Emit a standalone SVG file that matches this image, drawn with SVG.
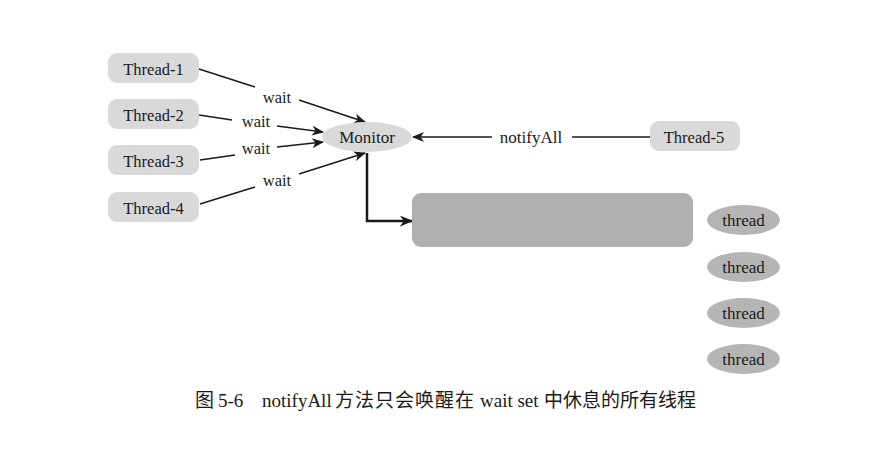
<svg xmlns="http://www.w3.org/2000/svg" width="873" height="460" viewBox="0 0 873 460">
<defs>
<style>
.box{fill:#d9d9d9;}
.t{font-family:"Liberation Serif","Noto Sans CJK SC",serif;font-size:16.5px;fill:#1a1a1a;text-anchor:middle;}
.t17{font-size:17px;}
.cap{font-family:"Liberation Serif","Noto Sans CJK SC",serif;font-size:19px;fill:#1a1a1a;}
.ln{stroke:#1a1a1a;stroke-width:1.5;fill:none;}
.thick{stroke:#1a1a1a;stroke-width:2.5;fill:none;}
.th{fill:#b5b5b5;}
</style>
<marker id="arr" viewBox="0 0 12 10" refX="11" refY="5" markerWidth="13" markerHeight="10" markerUnits="userSpaceOnUse" orient="auto">
<path d="M0,0 L12,5 L0,10 L3.5,5 z" fill="#1a1a1a"/>
</marker>
<marker id="arr2" viewBox="0 0 12 10" refX="11" refY="5" markerWidth="14" markerHeight="11" markerUnits="userSpaceOnUse" orient="auto">
<path d="M0,0 L12,5 L0,10 L3.5,5 z" fill="#1a1a1a"/>
</marker>
</defs>
<rect width="873" height="460" fill="#ffffff"/>

<g id="connectors">
<line class="ln" x1="199" y1="69" x2="255" y2="87"/>
<line class="ln" x1="299" y1="100" x2="365" y2="122" marker-end="url(#arr)"/>
<line class="ln" x1="199" y1="115" x2="232" y2="120"/>
<line class="ln" x1="277" y1="126" x2="323" y2="132" marker-end="url(#arr)"/>
<line class="ln" x1="200" y1="160" x2="235" y2="155"/>
<line class="ln" x1="277" y1="147" x2="323" y2="142" marker-end="url(#arr)"/>
<line class="ln" x1="200" y1="204" x2="255" y2="187"/>
<line class="ln" x1="299" y1="174" x2="365" y2="153" marker-end="url(#arr)"/>
<line class="ln" x1="650" y1="137" x2="572" y2="137"/>
<line class="ln" x1="492" y1="137" x2="413" y2="137" marker-end="url(#arr)"/>
<polyline class="thick" points="367,153 367,221 412,221" marker-end="url(#arr2)"/>
<text class="t" x="277" y="103">wait</text>
<text class="t" x="256" y="127">wait</text>
<text class="t" x="256" y="154">wait</text>
<text class="t" x="277" y="186">wait</text>
<text class="t t17" x="531" y="143">notifyAll</text>
</g>

<g id="thread1"><rect class="box" x="108" y="53" width="91" height="30" rx="9"/><text class="t" x="153.5" y="74.5">Thread-1</text></g>
<g id="thread2"><rect class="box" x="108" y="99" width="91" height="30" rx="9"/><text class="t" x="153.5" y="120.5">Thread-2</text></g>
<g id="thread3"><rect class="box" x="108" y="145" width="91" height="30" rx="9"/><text class="t" x="153.5" y="166.5">Thread-3</text></g>
<g id="thread4"><rect class="box" x="108" y="192" width="91" height="30" rx="9"/><text class="t" x="153.5" y="213.5">Thread-4</text></g>
<g id="monitor"><ellipse class="box" cx="367" cy="137" rx="45" ry="15"/><text class="t t17" x="367" y="143">Monitor</text></g>
<g id="thread5"><rect class="box" x="650" y="121" width="90" height="30" rx="9"/><text class="t" x="694" y="142.5">Thread-5</text></g>
<g id="waitset"><rect x="412" y="193" width="281" height="54" rx="9" fill="#b0b0b0"/></g>
<g id="t1"><ellipse class="th" cx="743.5" cy="220" rx="36.5" ry="15"/><text class="t t17" x="743.5" y="225.5">thread</text></g>
<g id="t2"><ellipse class="th" cx="743.5" cy="267" rx="36.5" ry="15"/><text class="t t17" x="743.5" y="272.5">thread</text></g>
<g id="t3"><ellipse class="th" cx="743.5" cy="313" rx="36.5" ry="15"/><text class="t t17" x="743.5" y="318.5">thread</text></g>
<g id="t4"><ellipse class="th" cx="743.5" cy="359" rx="36.5" ry="15"/><text class="t t17" x="743.5" y="364.5">thread</text></g>

<text class="cap" y="407"><tspan x="195">图</tspan><tspan x="218">5-6</tspan><tspan x="262">notifyAll</tspan><tspan x="335" letter-spacing="1">方法只会唤醒在</tspan><tspan x="480">wait set</tspan><tspan x="544">中休息的所有线程</tspan></text>
</svg>
